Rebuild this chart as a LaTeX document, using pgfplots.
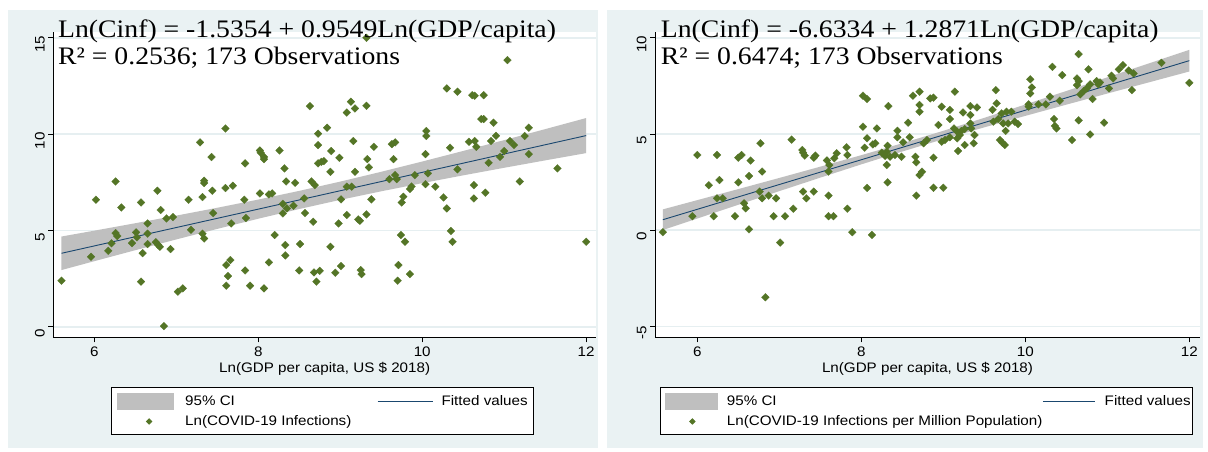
\documentclass[border=0pt]{standalone}
\usepackage{fontspec}
\setmainfont{Liberation Sans}
\newfontfamily\eqfont[FakeStretch=1.1]{Liberation Serif}
\newfontfamily\stsans[FakeStretch=1.1]{Liberation Sans}
\usepackage{pgfplots}
\usepackage{pgfplotstable}
\pgfplotsset{compat=1.18}

\definecolor{panelbg}{RGB}{234,242,243}
\definecolor{gridc}{RGB}{230,239,241}
\definecolor{ciGray}{RGB}{191,191,191}
\definecolor{fitNavy}{RGB}{26,71,111}
\definecolor{ptGreen}{RGB}{84,117,38}

\newcommand{\lblfont}{\stsans\fontsize{13.8}{15}\selectfont}
\newcommand{\eqsize}{\eqfont\fontsize{25.2}{28}\selectfont}

% Ln(COVID-19 infections) against Ln(GDP per capita)
\pgfplotstableread{
x y
5.60 2.39
5.96 3.63
6.02 6.59
6.17 3.94
6.21 4.33
6.26 7.54
6.26 4.86
6.28 4.71
6.33 6.19
6.46 4.34
6.51 4.90
6.52 4.64
6.57 6.45
6.57 2.34
6.59 3.82
6.65 5.36
6.65 4.83
6.65 4.29
6.75 4.39
6.77 7.06
6.78 4.24
6.80 4.15
6.81 6.06
6.85 0.03
6.88 5.62
6.93 4.03
6.96 5.69
7.02 1.82
7.08 1.99
7.15 6.59
7.18 5.03
7.29 9.57
7.32 4.83
7.32 6.73
7.34 7.58
7.34 7.46
7.34 4.58
7.43 8.81
7.44 7.06
7.45 5.90
7.60 7.20
7.60 10.29
7.61 3.20
7.63 2.63
7.61 2.13
7.66 3.46
7.67 5.36
7.69 7.32
7.83 6.59
7.84 8.48
7.84 2.92
7.85 5.64
7.90 2.13
8.02 9.15
8.03 9.03
8.02 6.92
8.07 8.81
8.07 8.70
8.07 1.99
8.13 6.87
8.17 6.92
8.13 3.34
8.20 4.76
8.26 9.15
8.30 6.38
8.32 8.22
8.30 5.88
8.34 7.54
8.35 6.14
8.33 4.24
8.33 3.70
8.43 6.28
8.45 7.47
8.50 2.92
8.51 4.29
8.56 6.66
8.57 5.90
8.63 11.45
8.65 7.54
8.67 5.45
8.68 2.82
8.69 7.35
8.71 2.34
8.73 10.02
8.73 9.43
8.73 8.48
9.32 15.00
11.04 13.84
10.30 12.37
10.43 12.20
10.61 12.02
10.64 11.99
10.75 12.02
9.13 11.68
9.08 11.12
9.18 11.33
9.32 11.47
10.72 10.78
10.75 10.78
10.87 10.59
8.84 10.33
10.05 10.16
10.05 9.90
11.30 10.33
11.25 9.90
10.90 9.91
10.84 9.64
10.57 9.60
10.64 9.64
10.66 9.34
11.07 9.64
11.12 9.43
9.16 9.64
8.89 9.12
9.41 9.34
9.63 9.48
9.67 9.57
10.34 9.29
11.00 9.12
11.30 8.96
10.95 8.82
8.99 8.77
8.77 8.56
8.80 8.60
9.33 8.70
9.65 8.70
10.04 8.96
10.81 8.51
11.65 8.22
8.88 8.04
9.18 8.04
9.35 8.27
10.43 8.17
9.91 7.87
10.07 7.96
9.60 7.66
9.69 7.66
9.67 7.87
9.08 7.27
9.14 7.27
10.04 7.40
10.16 7.27
11.19 7.54
9.87 7.28
9.85 7.15
10.63 7.35
10.77 6.96
9.01 6.61
9.38 6.61
10.26 6.71
10.63 6.66
9.77 6.75
9.75 6.45
10.30 6.14
8.98 5.36
9.08 5.80
9.22 5.57
9.24 5.50
9.32 5.83
8.88 4.15
9.74 4.76
9.79 4.41
10.35 4.97
10.37 4.41
12.00 4.41
8.75 2.90
8.94 2.80
9.01 3.15
9.25 2.94
9.26 2.73
9.71 3.20
9.70 2.39
9.85 2.73
}\leftpts

% Ln(COVID-19 infections per million population) against Ln(GDP per capita)
\pgfplotstableread{
x y
5.58 -0.10
5.94 0.73
6.00 3.91
6.14 2.34
6.20 0.73
6.24 3.91
6.27 2.61
6.24 1.66
6.31 1.66
6.46 0.73
6.50 2.49
6.50 3.77
6.54 3.91
6.57 1.40
6.59 1.14
6.63 2.82
6.63 0.05
6.65 3.62
6.76 2.01
6.77 4.52
6.79 3.05
6.79 1.66
6.83 -3.48
6.87 1.80
6.93 0.73
6.96 1.66
7.01 -0.64
7.07 0.73
7.15 4.71
7.17 1.12
7.28 4.17
7.29 4.03
7.31 3.88
7.29 2.01
7.33 1.66
7.42 2.01
7.42 3.77
7.44 3.88
7.58 3.63
7.60 3.05
7.61 3.39
7.60 1.80
7.60 0.73
7.66 0.73
7.67 3.74
7.70 4.00
7.82 4.31
7.83 3.91
7.83 1.12
7.89 -0.10
8.02 6.99
8.07 6.82
8.02 5.38
8.04 4.29
8.07 4.78
8.07 2.20
8.13 -0.24
8.14 4.46
8.17 4.52
8.19 5.29
8.25 4.03
8.29 3.86
8.31 4.08
8.31 3.39
8.32 4.39
8.32 2.49
8.33 6.45
8.35 3.82
8.41 3.91
8.44 5.17
8.44 4.83
8.49 3.82
8.51 4.57
8.57 5.59
8.59 4.83
8.63 6.99
8.66 3.82
8.67 3.53
8.67 1.80
8.71 7.20
8.71 6.51
8.71 6.16
8.71 2.87
10.65 9.15
10.33 8.49
10.45 8.06
10.77 8.36
11.66 8.70
12.00 7.66
11.14 8.36
11.19 8.58
11.05 8.03
11.07 7.89
11.26 8.30
11.32 8.15
11.30 7.28
11.02 7.37
10.63 7.89
10.65 7.75
10.63 7.54
10.75 7.37
10.79 7.58
10.87 7.75
10.89 7.58
10.91 7.68
10.67 7.06
10.71 7.23
10.82 6.82
10.06 7.84
10.08 7.42
10.06 7.11
10.30 6.94
10.42 6.73
10.04 6.54
10.16 6.54
10.25 6.54
10.04 6.42
9.64 7.28
9.65 6.59
9.60 6.26
9.71 6.07
9.77 6.16
9.83 6.16
9.67 5.78
9.61 5.64
9.73 5.55
9.79 5.55
9.87 5.64
9.91 5.52
9.76 5.16
9.69 4.69
9.72 4.55
9.75 4.43
10.35 5.78
10.36 5.42
10.38 5.29
10.65 5.71
10.57 4.69
10.79 4.98
10.96 5.59
9.14 7.20
8.84 6.85
8.88 6.89
8.98 6.42
9.08 6.25
9.24 6.12
9.33 6.45
9.41 6.38
9.33 5.99
9.08 5.78
8.94 5.47
9.33 5.55
9.13 5.29
9.17 5.12
9.22 5.16
9.26 5.26
9.34 5.29
9.20 4.95
9.08 4.83
9.02 4.69
8.98 4.60
9.38 4.95
9.17 4.78
9.37 4.52
9.26 4.43
9.18 4.12
8.80 4.69
8.76 4.52
8.88 3.77
8.74 3.04
8.88 2.21
9.00 2.21
}\rightpts

\pgfplotsset{
  stataplot/.style={
    scale only axis,
    anchor=south west,
    height=305.3pt,
    axis x line*=bottom,
    axis y line*=left,
    axis line style={black, line width=0.9pt},
    axis background/.style={fill=white},
    tick align=outside,
    major tick length=5pt,
    tick style={black, line width=0.9pt},
    xtick={6,8,10,12},
    xticklabels={6,8,10,12},
    ymajorgrids,
    grid style={gridc, line width=1.6pt},
    tick label style={font=\lblfont},
    xticklabel style={anchor=north, yshift=-1pt},
    yticklabel style={rotate=90, anchor=south, xshift=-6.5pt},
    xlabel={Ln(GDP per capita, US \$ 2018)},
    xlabel style={font=\lblfont, at={(axis description cs:0.5,-0.1038)}, anchor=center},
    legend columns=2,
    legend cell align=left,
    legend style={anchor=north west, draw=black, line width=0.8pt, fill=white,
      inner xsep=5.5pt, inner ysep=6pt, font=\lblfont,
      row sep=5pt, column sep=0pt,
      nodes={inner sep=0pt, text height=10.5pt, text depth=3pt}},
  },
  cistyle/.style={fill=ciGray, draw=none,
    legend image code/.code={\fill[ciGray] (0pt,-8.3pt) rectangle (#1,8.3pt);}},
  fitstyle/.style={fitNavy, line width=0.9pt,
    legend image code/.code={\draw[fitNavy, line width=0.9pt] (0pt,0pt) -- (#1,0pt);}},
  ptstyle/.style={only marks, mark=square*, mark size=2.75pt,
    mark options={rotate=45, fill=ptGreen, draw=ptGreen, line width=0.2pt}},
  ptlegL/.style={legend image code/.code={
    \path[draw=none, fill=none] (0pt,0pt) rectangle (57.3pt,0.1pt);
    \path[only marks, mark=square*, mark size=1.9pt,
      mark options={rotate=45, fill=ptGreen, draw=ptGreen}]
      plot coordinates {(32.3pt,0pt)};}},
  ptlegR/.style={legend image code/.code={
    \path[draw=none, fill=none] (0pt,0pt) rectangle (52.7pt,0.1pt);
    \path[only marks, mark=square*, mark size=1.9pt,
      mark options={rotate=45, fill=ptGreen, draw=ptGreen}]
      plot coordinates {(27pt,0pt)};}},
}

\begin{document}
\begin{tikzpicture}
\fill[white] (0pt,0pt) rectangle (1208pt,451pt);
\fill[panelbg] (8pt,3pt) rectangle (598pt,441pt);
\fill[panelbg] (607pt,3pt) rectangle (1203pt,441pt);

% left panel
\begin{axis}[stataplot, at={(53.3pt,113.7pt)}, width=542.7pt,
  xmin=5.5, xmax=12.12, ymin=-0.55, ymax=15.3,
  ytick={0,5,10,15}, yticklabels={0,5,10,15},
  legend style={at={(axis description cs:0.1063,-0.1618)}}]
\addplot[cistyle=57.3pt] coordinates {
  (5.6,4.682) (6.0,4.986) (6.5,5.372) (7.0,5.767) (7.5,6.174) (8.0,6.601) (8.5,7.052)
  (9.0,7.533) (9.5,8.042) (10.0,8.575) (10.5,9.124) (11.0,9.687) (11.5,10.257) (12.0,10.833)
  (12.0,9.013) (11.5,8.635) (11.0,8.251) (10.5,7.858) (10.0,7.453) (9.5,7.030) (9.0,6.585)
  (8.5,6.110) (8.0,5.607) (7.5,5.078) (7.0,4.531) (6.5,3.972) (6.0,3.402) (5.6,2.942)};
\addlegendentry{\hspace{11pt}\makebox[192pt][l]{95\% CI}}
\addplot[fitstyle=55.5pt] coordinates {(5.6,3.812) (12.0,9.923)};
\addlegendentry{\hspace{8pt}Fitted values\hspace{4pt}}
\addplot[ptstyle, ptlegL] table {\leftpts};
\addlegendentry{\hspace{11pt}\makebox[192pt][l]{Ln(COVID-19 Infections)}}
\end{axis}

% right panel
\begin{axis}[stataplot, at={(655pt,113.7pt)}, width=545pt,
  xmin=5.484, xmax=12.13, ymin=-5.56, ymax=10.3,
  ytick={-5,0,5,10}, yticklabels={-5,0,5,10},
  legend style={at={(axis description cs:0.0083,-0.1618)}}]
\addplot[cistyle=52.7pt] coordinates {
  (5.58,1.086) (6.0,1.566) (6.5,2.140) (7.0,2.718) (7.5,3.305) (8.0,3.902) (8.5,4.521)
  (9.0,5.168) (9.5,5.841) (10.0,6.533) (10.5,7.236) (11.0,7.946) (11.5,8.659) (12.0,9.375)
  (12.0,8.249) (11.5,7.677) (11.0,7.104) (10.5,6.526) (10.0,5.943) (9.5,5.347) (9.0,4.734)
  (8.5,4.093) (8.0,3.424) (7.5,2.735) (7.0,2.034) (6.5,1.326) (6.0,0.612) (5.58,0.012)};
\addlegendentry{\hspace{8.8pt}\makebox[315.5pt][l]{95\% CI}}
\addplot[fitstyle=52pt] coordinates {(5.58,0.549) (12.0,8.812)};
\addlegendentry{\hspace{9.4pt}\makebox[82.6pt][l]{Fitted values}}
\addplot[ptstyle, ptlegR] table {\rightpts};
\addlegendentry{\hspace{8.8pt}\makebox[315.5pt][l]{Ln(COVID-19 Infections per Million Population)}}
\end{axis}

% regression summaries
\node[anchor=base west, inner sep=0pt] at (58pt,413.3pt) {\eqsize Ln(Cinf) = -1.5354 + 0.9549Ln(GDP/capita)};
\node[anchor=base west, inner sep=0pt] at (58pt,386pt) {\eqsize R² = 0.2536; 173 Observations};
\node[anchor=base west, inner sep=0pt] at (660.7pt,413.3pt) {\eqsize Ln(Cinf) = -6.6334 + 1.2871Ln(GDP/capita)};
\node[anchor=base west, inner sep=0pt] at (660.7pt,386pt) {\eqsize R² = 0.6474; 173 Observations};
\end{tikzpicture}
\end{document}
